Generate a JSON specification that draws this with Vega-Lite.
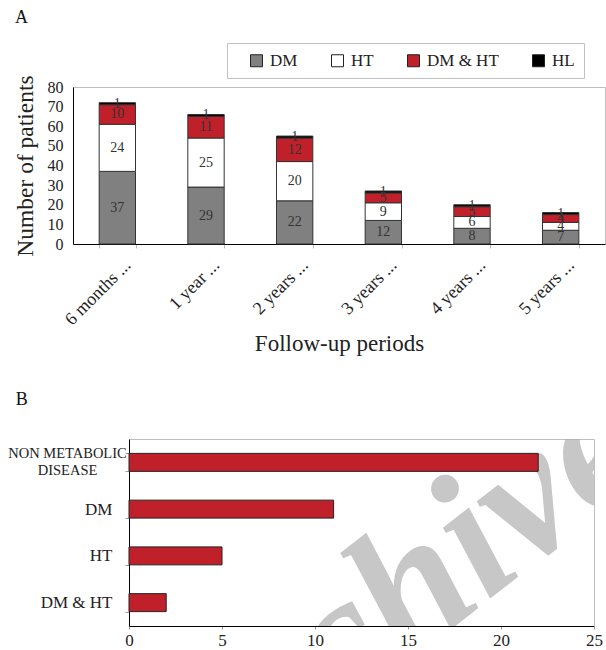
{
  "$schema": "https://vega.github.io/schema/vega-lite/v6.json",
  "background": "white",
  "padding": {"left": 7, "top": 8, "right": 0, "bottom": 0},
  "columns": 1,
  "spacing": 35,
  "config": {
    "font": "Liberation Serif",
    "view": {"stroke": "#bfbfbf", "strokeWidth": 1},
    "axis": {"grid": false, "domainColor": "#000000", "domainWidth": 1, "labelColor": "#222222", "titleColor": "#222222", "titleFontWeight": "normal", "labelFont": "Liberation Serif", "titleFont": "Liberation Serif"},
    "title": {"fontWeight": "normal", "font": "Liberation Serif", "fontSize": 18, "anchor": "start", "frame": "bounds", "color": "#111111"}
  },
  "concat": [
    {
      "title": {"text": "A", "offset": 48, "dx": 2},
      "width": 532,
      "height": 157,
      "data": {"values": [
        {"period": "6 months ...", "cat": "DM", "k": 1, "n": 37},
        {"period": "6 months ...", "cat": "HT", "k": 2, "n": 24},
        {"period": "6 months ...", "cat": "DM & HT", "k": 3, "n": 10},
        {"period": "6 months ...", "cat": "HL", "k": 4, "n": 1},
        {"period": "1 year ...", "cat": "DM", "k": 1, "n": 29},
        {"period": "1 year ...", "cat": "HT", "k": 2, "n": 25},
        {"period": "1 year ...", "cat": "DM & HT", "k": 3, "n": 11},
        {"period": "1 year ...", "cat": "HL", "k": 4, "n": 1},
        {"period": "2 years ...", "cat": "DM", "k": 1, "n": 22},
        {"period": "2 years ...", "cat": "HT", "k": 2, "n": 20},
        {"period": "2 years ...", "cat": "DM & HT", "k": 3, "n": 12},
        {"period": "2 years ...", "cat": "HL", "k": 4, "n": 1},
        {"period": "3 years ...", "cat": "DM", "k": 1, "n": 12},
        {"period": "3 years ...", "cat": "HT", "k": 2, "n": 9},
        {"period": "3 years ...", "cat": "DM & HT", "k": 3, "n": 5},
        {"period": "3 years ...", "cat": "HL", "k": 4, "n": 1},
        {"period": "4 years ...", "cat": "DM", "k": 1, "n": 8},
        {"period": "4 years ...", "cat": "HT", "k": 2, "n": 6},
        {"period": "4 years ...", "cat": "DM & HT", "k": 3, "n": 5},
        {"period": "4 years ...", "cat": "HL", "k": 4, "n": 1},
        {"period": "5 years ...", "cat": "DM", "k": 1, "n": 7},
        {"period": "5 years ...", "cat": "HT", "k": 2, "n": 4},
        {"period": "5 years ...", "cat": "DM & HT", "k": 3, "n": 4},
        {"period": "5 years ...", "cat": "HL", "k": 4, "n": 1}
      ]},
      "encoding": {
        "x": {
          "field": "period", "type": "nominal",
          "sort": ["6 months ...", "1 year ...", "2 years ...", "3 years ...", "4 years ...", "5 years ..."],
          "scale": {"paddingInner": 0.59, "paddingOuter": 0.295},
          "axis": {"title": "Follow-up periods", "titleFontSize": 23, "titlePadding": 4, "labelAngle": -45, "labelFontSize": 18, "tickBand": "extent", "tickColor": "#bbbbbb", "tickSize": 4, "labelPadding": 8, "labelOffset": 4}
        },
        "y": {
          "field": "n", "type": "quantitative", "stack": "zero",
          "scale": {"domain": [0, 80]},
          "axis": {"title": "Number of patients", "titleFontSize": 23.5, "values": [0, 10, 20, 30, 40, 50, 60, 70, 80], "labelFontSize": 16, "ticks": false, "labelPadding": 10, "titlePadding": 10}
        },
        "order": {"field": "k", "type": "quantitative"}
      },
      "layer": [
        {
          "mark": {"type": "bar", "stroke": "#333333", "strokeWidth": 1},
          "encoding": {
            "color": {
              "field": "cat", "type": "nominal",
              "scale": {"domain": ["DM", "HT", "DM & HT", "HL"], "range": ["#808080", "#ffffff", "#c0202a", "#000000"]},
              "legend": {
                "orient": "none", "legendX": 154, "legendY": -44, "direction": "horizontal",
                "title": "\u00a0", "titleOrient": "left", "titlePadding": 12, "titleFontSize": 12,
                "symbolType": "square", "symbolSize": 144, "symbolStrokeColor": "#222222", "symbolStrokeWidth": 1,
                "labelFontSize": 17, "labelFont": "Liberation Serif", "labelColor": "#222222", "labelOffset": 5,
                "columnPadding": 31, "padding": 9, "strokeColor": "#c0c0c0", "fillColor": "white"
              }
            }
          }
        },
        {
          "mark": {"type": "text", "fontSize": 14, "fill": "#333333", "baseline": "middle"},
          "encoding": {
            "y": {"field": "n", "type": "quantitative", "stack": "zero", "bandPosition": 0.5},
            "detail": {"field": "cat"},
            "text": {"field": "n", "type": "quantitative"}
          }
        }
      ]
    },
    {
      "title": {"text": "B", "offset": 21, "dx": 8},
      "width": 521,
      "height": 187,
      "view": {"stroke": null},
      "resolve": {"axis": {"x": "independent", "y": "independent"}},
      "layer": [
        {
          "data": {"values": [{"g": "DM & HT", "v": 13.65, "w": "Archive"}]},
          "mark": {"type": "text", "angle": -38, "fontSize": 185, "font": "Liberation Serif", "fontStyle": "italic", "fontWeight": "bold", "color": "#b0b0b0", "opacity": 0.7, "align": "center", "baseline": "middle", "dy": 7, "clip": true},
          "encoding": {
            "x": {
              "field": "v", "type": "quantitative",
              "scale": {"domain": [0, 25], "range": [56, 521]},
              "axis": {"orient": "top", "title": null, "labels": false, "ticks": false, "domainColor": "#bfbfbf"}
            },
            "y": {
              "field": "g", "type": "nominal",
              "sort": ["NON METABOLIC DISEASE", "DM", "HT", "DM & HT"],
              "scale": {"paddingInner": 0.615, "paddingOuter": 0.3075},
              "axis": {"orient": "right", "title": null, "labels": false, "ticks": false, "domainColor": "#bfbfbf"}
            },
            "text": {"field": "w"}
          }
        },
        {
          "data": {"values": [
            {"g": "NON METABOLIC DISEASE", "v": 22},
            {"g": "DM", "v": 11},
            {"g": "HT", "v": 5},
            {"g": "DM & HT", "v": 2}
          ]},
          "mark": {"type": "bar", "color": "#c0202a", "stroke": "#222222", "strokeWidth": 1},
          "encoding": {
            "x": {
              "field": "v", "type": "quantitative",
              "scale": {"domain": [0, 25], "range": [56, 521]},
              "axis": {"orient": "bottom", "title": null, "values": [0, 5, 10, 15, 20, 25], "labelFontSize": 17, "labelFlush": false, "tickSize": 3, "tickColor": "#999999", "labelPadding": 3}
            },
            "y": {
              "field": "g", "type": "nominal",
              "sort": ["NON METABOLIC DISEASE", "DM", "HT", "DM & HT"],
              "scale": {"paddingInner": 0.615, "paddingOuter": 0.3075},
              "axis": {
                "orient": "left", "offset": -56, "title": null, "tickBand": "extent", "tickSize": 4, "tickColor": "#999999", "labelLimit": 0,
                "labelPadding": {"condition": {"test": "datum.value == 'NON METABOLIC DISEASE'", "value": 58}, "value": 13},
                "labelAlign": {"condition": {"test": "datum.value == 'NON METABOLIC DISEASE'", "value": "center"}, "value": "right"},
                "labelOffset": {"condition": {"test": "datum.value == 'NON METABOLIC DISEASE'", "value": -8.5}, "value": 0},
                "labelFontSize": {"condition": {"test": "datum.value == 'NON METABOLIC DISEASE'", "value": 14.5}, "value": 17},
                "labelExpr": "datum.value == 'NON METABOLIC DISEASE' ? ['NON METABOLIC', 'DISEASE'] : (datum.value == null ? '' : datum.value)",
                "labelLineHeight": 17
              }
            }
          }
        }
      ]
    }
  ]
}
